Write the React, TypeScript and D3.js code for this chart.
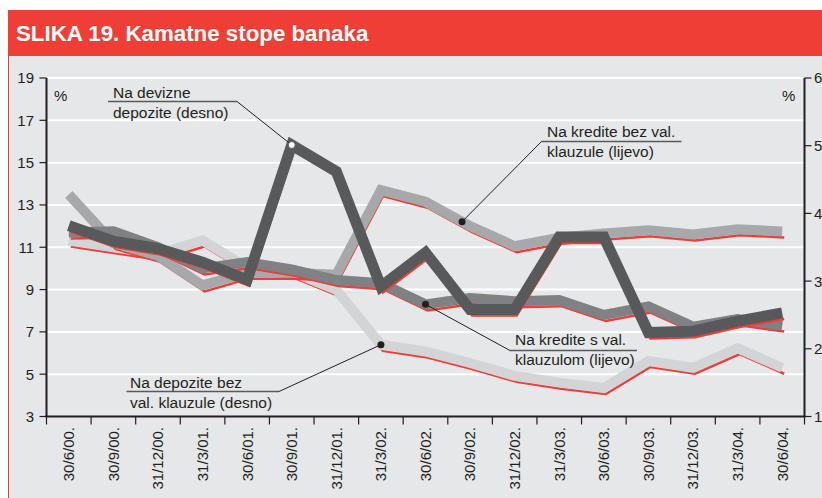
import React from "react";
import * as d3 from "d3";

// quarters on the x axis
const quarters = [
  "30/6/00.", "30/9/00.", "31/12/00.", "31/3/01.", "30/6/01.", "30/9/01.",
  "31/12/01.", "31/3/02.", "30/6/02.", "30/9/02.", "31/12/02.", "31/3/03.",
  "30/6/03.", "30/9/03.", "31/12/03.", "31/3/04.", "30/6/04.",
];

// Na devizne depozite (desno)
const deviznDepoziti = [3.82, 3.59, 3.48, 3.28, 3.02, 5.01, 4.62, 2.92, 3.42, 2.58, 2.58, 3.65, 3.65, 2.24, 2.26, 2.41, 2.53];
// Na kredite bez val. klauzule (lijevo)
const krediteBezKlauzule = [13.5, 11.2, 10.6, 9.2, 9.8, 9.8, 9.7, 13.7, 13.15, 12.0, 11.05, 11.45, 11.65, 11.8, 11.6, 11.85, 11.75];
// Na kredite s val. klauzulom (lijevo)
const krediteSKlauzulom = [11.7, 11.75, 11.0, 10.0, 10.3, 9.95, 9.45, 9.3, 8.3, 8.6, 8.45, 8.5, 7.8, 8.2, 7.25, 7.6, 7.3];
// Na depozite bez val. klauzule (desno)
const depoziteBezKlauzule = [3.6, 3.5, 3.4, 3.6, 3.2, 3.14, 2.87, 2.06, 1.96, 1.79, 1.6, 1.5, 1.42, 1.82, 1.72, 2.01, 1.72];

const leftTicks = [3, 5, 7, 9, 11, 13, 15, 17, 19];
const rightTicks = [1, 2, 3, 4, 5, 6];

const FONT = "'Liberation Sans', Arial, Helvetica, sans-serif";
const INK = "#231f20";
const RED = "#ef3e36";

const App = () => {
  const width = 822;
  const height = 498;
  const left = 46.5;
  const right = 804.5;
  const top = 78;
  const bottom = 416.5;

  const x = d3.scaleBand().domain(quarters).range([left, right]);
  const cx = (i: number) => (x(quarters[i]) as number) + x.bandwidth() / 2;
  const yL = d3.scaleLinear().domain([3, 19]).range([bottom, top]);
  const yR = d3.scaleLinear().domain([1, 6]).range([bottom, top]);

  const series = [
    { values: depoziteBezKlauzule, y: yR, color: "#d3d4d6", w: 10 },
    { values: krediteBezKlauzule, y: yL, color: "#a7a8ab", w: 10 },
    { values: krediteSKlauzulom, y: yL, color: "#808184", w: 10 },
    { values: deviznDepoziti, y: yR, color: "#58595b", w: 11 },
  ];

  const lineFor = (s: any, dx = 0, dy = 0) =>
    d3
      .line<number>()
      .x((_, i) => cx(i) + dx)
      .y((d) => s.y(d) + dy)(s.values) as string;

  // leader targets, taken from the series through the scales
  const ptA = [cx(5), yR(deviznDepoziti[5])];
  const tB = 0.82;
  const ptB = [
    cx(8) + (cx(9) - cx(8)) * tB,
    yL(krediteBezKlauzule[8]) + (yL(krediteBezKlauzule[9]) - yL(krediteBezKlauzule[8])) * tB,
  ];
  const ptC = [cx(8), yL(krediteSKlauzulom[8])];
  const ptD = [cx(7), yR(depoziteBezKlauzule[7])];

  const annots = [
    { lines: ["Na devizne", "depozite (desno)"], tx: 113, ty: 98, ux1: 108, ux2: 237, uy: 101.5, from: [237, 101.5], to: ptA, white: true },
    { lines: ["Na kredite bez val.", "klauzule (lijevo)"], tx: 547, ty: 137, ux1: 541.5, ux2: 681.5, uy: 141.5, from: [541.5, 141.5], to: ptB, white: false },
    { lines: ["Na kredite s val.", "klauzulom (lijevo)"], tx: 515, ty: 345, ux1: 510, ux2: 637, uy: 350.5, from: [510, 350.5], to: ptC, white: false },
    { lines: ["Na depozite bez", "val. klauzule (desno)"], tx: 130, ty: 388, ux1: 126.5, ux2: 279, uy: 391.5, from: [279, 391.5], to: ptD, white: false },
  ];

  return (
    <svg
      width={width}
      height={height}
      style={{ position: "absolute", left: 0, top: 0, display: "block", background: "#fff" }}
      fontFamily={FONT}
    >
      {/* panel + header */}
      <rect x={8.5} y={55} width={840} height={460} fill="#e6e7e8" stroke={RED} strokeWidth={1} />
      <rect x={8} y={10} width={830} height={46} fill={RED} />
      <text x={16} y={41} fill="#fff" fontSize={22.3} fontWeight="bold">
        SLIKA 19. Kamatne stope banaka
      </text>

      {/* gridlines */}
      {leftTicks.filter((t) => t > 3).map((t) => (
        <line key={t} x1={left} x2={right} y1={yL(t)} y2={yL(t)} stroke="#fff" strokeWidth={2} />
      ))}

      {/* series: red trace under each gray band */}
      {series.map((s, k) => (
        <g key={k}>
          <path d={lineFor(s, 2, 6)} fill="none" stroke={RED} strokeWidth={2.5} strokeLinejoin="miter" />
          <path d={lineFor(s)} fill="none" stroke={s.color} strokeWidth={s.w} strokeLinejoin="miter" />
        </g>
      ))}

      {/* annotations */}
      {annots.map((a, k) => (
        <g key={k} fill={INK} fontSize={15.5}>
          <text x={a.tx} y={a.ty}>{a.lines[0]}</text>
          <text x={a.tx} y={a.ty + 19.5}>{a.lines[1]}</text>
          <line x1={a.ux1} x2={a.ux2} y1={a.uy} y2={a.uy} stroke="#58595b" strokeWidth={1.5} />
          <line x1={a.from[0]} y1={a.from[1]} x2={a.to[0]} y2={a.to[1]} stroke={INK} strokeWidth={1} />
          <circle
            cx={a.to[0]}
            cy={a.to[1]}
            r={3.5}
            fill={a.white ? "#fff" : INK}
            stroke={a.white ? "#58595b" : "none"}
            strokeWidth={1}
          />
        </g>
      ))}

      {/* % labels */}
      <text x={54} y={101} fontSize={15} fill={INK}>%</text>
      <text x={782} y={101} fontSize={15} fill={INK}>%</text>

      {/* left axis */}
      <line x1={left} x2={left} y1={top} y2={bottom} stroke={INK} strokeWidth={2} />
      {leftTicks.map((t) => (
        <g key={t}>
          <line x1={left - 7} x2={left} y1={yL(t)} y2={yL(t)} stroke={INK} strokeWidth={1.2} />
          <text x={34} y={yL(t)} dy="0.36em" textAnchor="end" fontSize={15} fill={INK}>
            {t}
          </text>
        </g>
      ))}

      {/* right axis */}
      <line x1={right} x2={right} y1={top} y2={bottom} stroke={INK} strokeWidth={2} />
      {rightTicks.map((t) => (
        <g key={t}>
          <line x1={right} x2={right + 7} y1={yR(t)} y2={yR(t)} stroke={INK} strokeWidth={1.2} />
          <text x={814} y={yR(t)} dy="0.36em" fontSize={15} fill={INK}>
            {t}
          </text>
        </g>
      ))}

      {/* bottom axis */}
      <line x1={left - 1} x2={right + 1} y1={bottom} y2={bottom} stroke={INK} strokeWidth={2} />
      {quarters.map((q) => (
        <line
          key={"t" + q}
          x1={x(q) as number}
          x2={x(q) as number}
          y1={bottom}
          y2={bottom + 8}
          stroke={INK}
          strokeWidth={1.2}
        />
      ))}
      <line x1={right} x2={right} y1={bottom} y2={bottom + 8} stroke={INK} strokeWidth={1.2} />
      {quarters.map((q, i) => (
        <text
          key={q}
          transform={`translate(${cx(i)},427) rotate(-90)`}
          dy="0.36em"
          textAnchor="end"
          fontSize={15}
          fill={INK}
        >
          {q}
        </text>
      ))}
    </svg>
  );
};

export default App;
